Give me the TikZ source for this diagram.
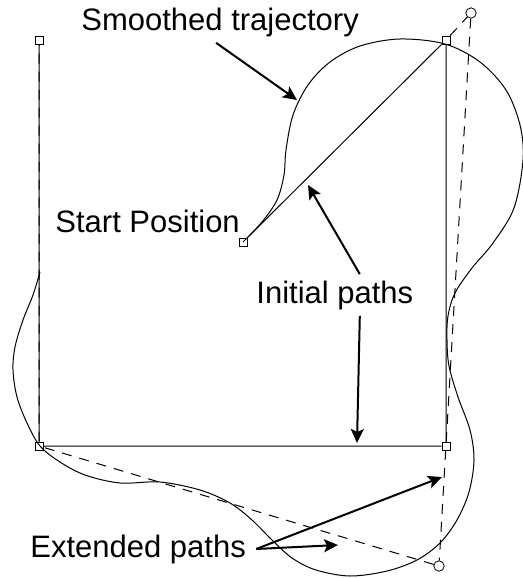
\documentclass[tikz,border=0pt]{standalone}
\usepackage{fontspec}
\setmainfont{Liberation Sans}
\usetikzlibrary{arrows.meta,positioning}

\begin{document}
\begin{tikzpicture}[
  x=0.5pt, y=-0.5pt,
  every node/.style={font=\fontsize{15.5pt}{18pt}\selectfont},
  waypt/.style={draw, rectangle, inner sep=0pt, minimum size=4pt},
  endpt/.style={draw, circle, inner sep=0pt, minimum size=5.2pt},
  lbl/.style={inner sep=3pt, anchor=base west},
  initpath/.style={line width=0.5pt},
  extpath/.style={line width=0.5pt, dash pattern=on 5pt off 4pt},
  arrow/.style={-{Stealth[length=7pt, width=6.5pt, inset=1.5pt]}, line width=1pt}
]
\useasboundingbox (0,0) rectangle (523,578);

% waypoints
\node[waypt] (start) at (243,242) {};
\node[waypt] (p1) at (446,40) {};
\node[waypt] (p2) at (446,446) {};
\node[waypt] (p3) at (39,446) {};
\node[waypt] (p4) at (39,40) {};
\node[endpt] (e1) at (471,13) {};
\node[endpt] (e2) at (439,566) {};

% initial and extended paths
\draw[initpath] (start) -- (p1) -- (p2) -- (p3) -- (p4);
\draw[extpath] (p1) -- (e1) -- (e2) -- (p3) -- (p4);

% smoothed trajectory
\draw[line width=0.5pt] plot[smooth, tension=0.55] coordinates {
  (243,242) (262,222) (277,200) (284,175) (286,150) (293,115) (308,85)
  (330,62) (360,46) (400,39) (445,44) (480,62) (506,90) (520,125)
  (523,160) (514,208) (493,243) (472,268) (455,293) (448,316) (447,340)
  (449,366) (458,397) (470,430) (474,460) (469,492) (457,520) (440,543)
  (417,560) (387,571) (350,576) (316,570) (292,558) (272,540) (252,520)
  (230,503) (200,490) (160,482) (120,483) (85,475) (60,462) (40,446)
  (27,423) (17,397) (13,370) (15,347) (23,320) (33,295) (40,272)};

% labels
\node[lbl] (smooth) at (75,30) {Smoothed trajectory};
\node[lbl] (startlbl) at (49,232) {Start Position};
\node[lbl] (init) at (250,303) {Initial paths};
\node[lbl] (ext) at (24,557) {Extended paths};

\coordinate (tipsmooth) at (297,100);
\coordinate (tipdiag) at (308,185);
\coordinate (tipbase) at (357,443);
\coordinate (tipright) at (442,477);
\coordinate (tipdiag2) at (338,545);

\draw[arrow] ([xshift=-2pt]smooth.south) -- (tipsmooth);
\draw[arrow] ([xshift=12.5pt]init.north) -- (tipdiag);
\draw[arrow] ([xshift=12.5pt]init.south) -- (tipbase);
\draw[arrow] ([xshift=2pt]ext.east) -- (tipright);
\draw[arrow] ([xshift=2pt]ext.east) -- (tipdiag2);
\end{tikzpicture}
\end{document}
